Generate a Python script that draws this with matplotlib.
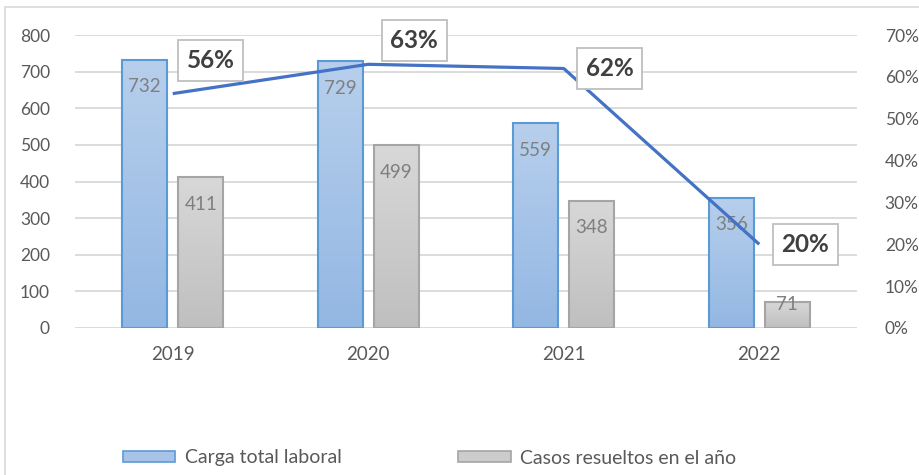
import numpy as np
import matplotlib
matplotlib.use("Agg")
import matplotlib.pyplot as plt
from matplotlib.patches import Rectangle, Patch
from matplotlib.colors import LinearSegmentedColormap
from matplotlib.ticker import FuncFormatter

years = ["2019", "2020", "2021", "2022"]
carga = [732, 729, 559, 356]
resueltos = [411, 499, 348, 71]
pct = [0.56, 0.63, 0.62, 0.20]
pct_labels = ["56%", "63%", "62%", "20%"]
# label offsets (px) relative to line points
pct_offsets = [(38, 33), (46, 24), (46, 0), (46, 0)]

plt.rcParams['font.family'] = ['Lato', 'DejaVu Sans']

W, H = 919, 475
fig = plt.figure(figsize=(W / 100, H / 100), dpi=100)
fig.patch.set_facecolor("white")
fig.add_artist(Rectangle((5 / W, -0.01), 1.0, 1 - 7 / H + 0.01, transform=fig.transFigure,
                         facecolor="none", edgecolor="#d9d9d9", lw=1.2))

ax = fig.add_axes([75 / W, 147 / H, (857 - 75) / W, (328 - 35) / H])
x = np.arange(len(years))
bw = 0.23
off = 0.143

blue_cmap = LinearSegmentedColormap.from_list("b", ["#93b7e3", "#b7cfec"])
gray_cmap = LinearSegmentedColormap.from_list("g", ["#bfbfbf", "#d8d8d8"])

def grad_bars(xs, vals, cmap, edge):
    bars = ax.bar(xs, vals, width=bw, facecolor="none", edgecolor=edge, lw=1.5, zorder=3)
    grad = np.linspace(0, 1, 256).reshape(-1, 1)
    for b in bars:
        x0, y0 = b.get_x(), b.get_y()
        w, h = b.get_width(), b.get_height()
        im = ax.imshow(grad, cmap=cmap, origin="lower", aspect="auto",
                       extent=[x0, x0 + w, y0, y0 + h], zorder=2)
        im.set_clip_path(b)
    return bars

b1 = grad_bars(x - off, carga, blue_cmap, "#5b9bd5")
b2 = grad_bars(x + off, resueltos, gray_cmap, "#a5a5a5")

def val_label(xi, v):
    dy = -27 if v > 150 else -3
    ax.annotate(str(v), (xi, v), xytext=(0, dy * 0.72), textcoords="offset points",
                ha="center", va="center", fontsize=13.5, color="#7f7f7f", zorder=5)

for xi, v in zip(x - off, carga):
    val_label(xi, v)
for xi, v in zip(x + off, resueltos):
    val_label(xi, v)

ax.set_xlim(-0.5, 3.5)
ax.set_ylim(0, 800)
ax.set_yticks(range(0, 801, 100))
ax.set_xticks(x)
ax.set_xticklabels(years)
ax.grid(axis="y", color="#d9d9d9", lw=1.3, zorder=0)
ax.set_axisbelow(True)
for s in ax.spines.values():
    s.set_visible(False)
ax.tick_params(axis="both", length=0, labelsize=12.5, labelcolor="#595959")
ax.tick_params(axis="x", labelsize=13.5, pad=13)
ax.tick_params(axis="y", pad=18)

ax2 = ax.twinx()
ax2.set_ylim(0, 0.70)
ax2.set_yticks(np.arange(0, 0.71, 0.1))
ax2.yaxis.set_major_formatter(FuncFormatter(lambda v, p: f"{round(v * 100)}%"))
for s in ax2.spines.values():
    s.set_visible(False)
ax2.tick_params(axis="y", length=0, labelsize=12.5, labelcolor="#595959", pad=20)
ax2.plot(x, pct, color="#4472c4", lw=2.3, zorder=4, solid_capstyle="butt")

for xi, v, lab, (dx, dy) in zip(x, pct, pct_labels, pct_offsets):
    ax2.annotate(lab, (xi, v), xytext=(dx * 0.72, dy * 0.72), textcoords="offset points",
                 ha="center", va="center", fontsize=17.5, fontweight="bold", color="#404040",
                 bbox=dict(boxstyle="square,pad=0.36", fc="white", ec="#bfbfbf", lw=1.3),
                 zorder=6)

handles = [Patch(facecolor="#a7c4e8", edgecolor="#5b9bd5", lw=1.2),
           Patch(facecolor="#cccccc", edgecolor="#a5a5a5", lw=1.2)]
fig.legend(handles, ["Carga total laboral", "Casos resueltos en el año"],
           loc="center left", bbox_to_anchor=(105 / W, 1 - 458 / H), ncol=2,
           frameon=False, fontsize=14, labelcolor="#595959",
           handlelength=2.7, handleheight=0.45, handletextpad=0.5, columnspacing=6.0)

fig.savefig("out.png", dpi=100, facecolor="white")
